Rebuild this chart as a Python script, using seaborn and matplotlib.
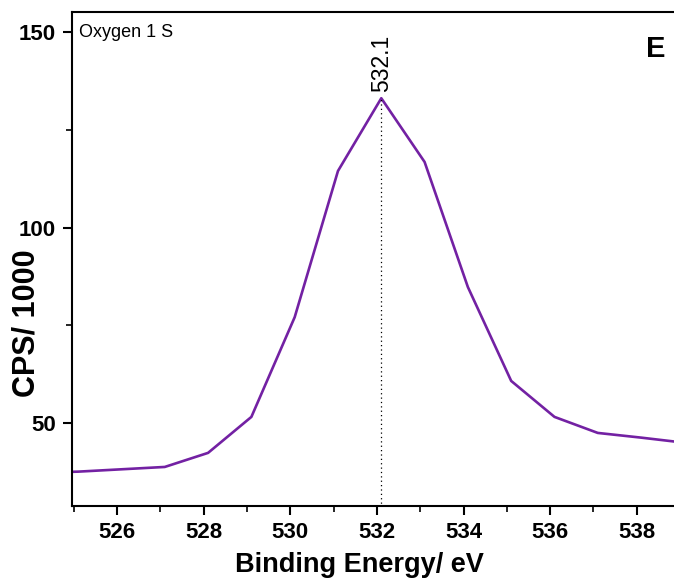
import matplotlib
matplotlib.use("Agg")
import matplotlib.pyplot as plt
from matplotlib.ticker import MultipleLocator
import pandas as pd
import seaborn as sns

# O 1s XPS spectrum
binding_energy = [524.1, 525.1, 526.1, 527.1, 528.1, 529.1, 530.1, 531.1,
                  532.1, 533.1, 534.1, 535.1, 536.1, 537.1, 538.1, 539.1]
cps_k = [37.3, 37.6, 38.2, 38.8, 42.4, 51.6, 77.1, 114.5,
         133.1, 116.8, 84.8, 60.8, 51.6, 47.5, 46.3, 45.0]
peak_energy = 532.1
x_ticks = [526, 528, 530, 532, 534, 536, 538]
y_ticks = [50, 100, 150]

df = pd.DataFrame({"Binding Energy/ eV": binding_energy, "CPS/ 1000": cps_k})

sns.set_style("ticks")
plt.rcParams["font.family"] = ["Liberation Sans", "DejaVu Sans"]
plt.rcParams["text.color"] = "black"
plt.rcParams["axes.labelcolor"] = "black"
plt.rcParams["xtick.color"] = "black"
plt.rcParams["ytick.color"] = "black"

fig = plt.figure(figsize=(6.74, 5.81), dpi=100)
ax = fig.add_axes([0.107, 0.129, 0.893, 0.850])

sns.lineplot(data=df, x="Binding Energy/ eV", y="CPS/ 1000", ax=ax,
             color="#7321A3", linewidth=1.9)

peak_value = cps_k[binding_energy.index(peak_energy)]
ax.plot([peak_energy, peak_energy], [0, peak_value], linestyle=(0, (1, 2.5)),
        color="black", linewidth=0.9)
ax.text(peak_energy, peak_value + 1.5, f"{peak_energy}", rotation=90,
        ha="center", va="bottom", fontsize=16.5)

ax.set_xlim(524.96, 538.86)
ax.set_ylim(28.8, 155.1)
ax.set_xticks(x_ticks)
ax.set_yticks(y_ticks)
ax.xaxis.set_minor_locator(MultipleLocator(1))
ax.yaxis.set_minor_locator(MultipleLocator(25))

ax.tick_params(which="major", direction="out", length=6.5, width=1.5,
               labelsize=16, pad=5)
ax.tick_params(which="minor", direction="out", length=4.5, width=1.2)
for lab in ax.get_xticklabels() + ax.get_yticklabels():
    lab.set_fontweight("bold")

ax.set_xlabel("Binding Energy/ eV", fontsize=19.5, fontweight="bold")
ax.set_ylabel("CPS/ 1000", fontsize=22, fontweight="bold")
ax.xaxis.set_label_coords(0.478, -0.093)
ax.yaxis.set_label_coords(-0.051, 0.37)

for side in ("left", "bottom", "top"):
    ax.spines[side].set_linewidth(1.5)
    ax.spines[side].set_color("black")
ax.spines["right"].set_visible(False)

ax.text(0.011, 0.977, "Oxygen 1 S", transform=ax.transAxes, ha="left",
        va="top", fontsize=13)
ax.text(0.97, 0.925, "E", transform=ax.transAxes, ha="center", va="center",
        fontsize=21, fontweight="bold")

fig.savefig("out.png", dpi=100)
